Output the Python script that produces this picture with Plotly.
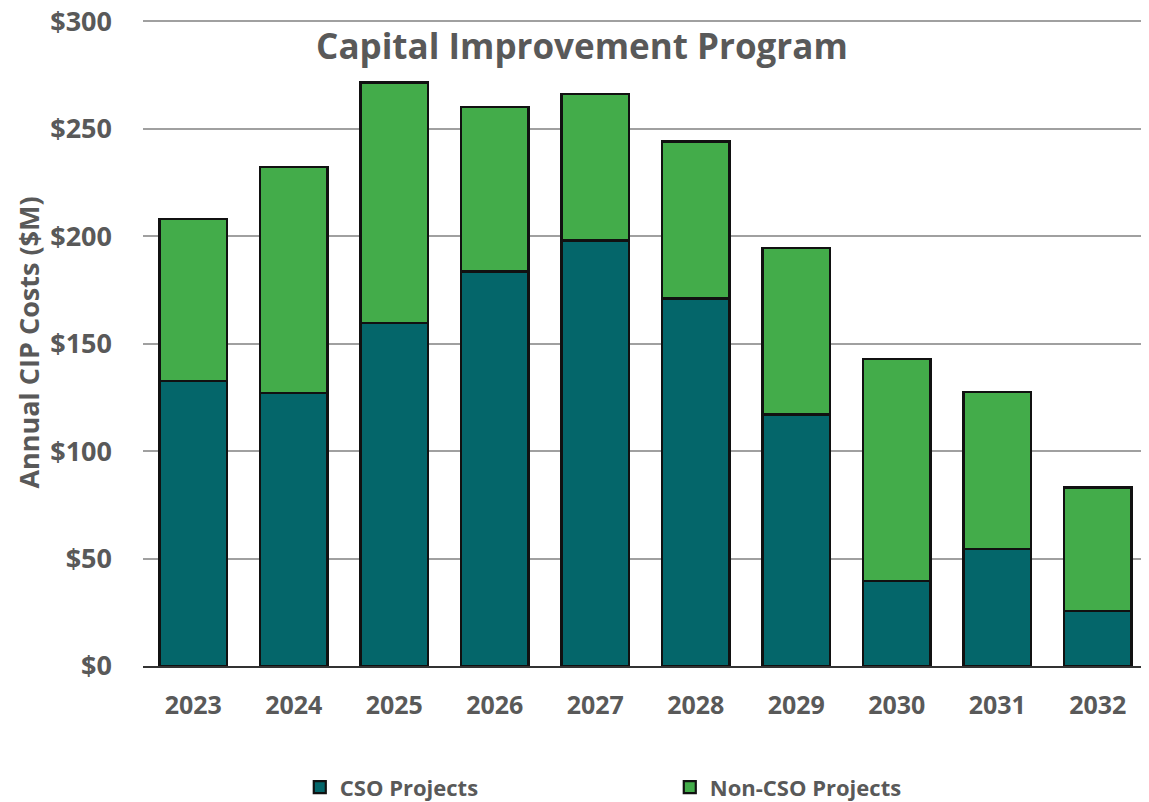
import plotly.graph_objects as go

years = ["2023", "2024", "2025", "2026", "2027", "2028", "2029", "2030", "2031", "2032"]
cso = [132.5, 127, 159.5, 183.5, 198, 171, 117, 39.5, 54.5, 25.5]
non_cso = [75.5, 105, 112, 76.5, 68, 73, 77.5, 103.5, 73, 57.5]
y_ticks = [0, 50, 100, 150, 200, 250, 300]
y_labels = ["$0", "$50", "$100", "$150", "$200", "$250", "$300"]

GRAY = "#595959"
FONT = "Open Sans, sans-serif"

fig = go.Figure()
fig.add_trace(go.Bar(x=years, y=cso, name="<b>CSO Projects</b>",
                     marker=dict(color="#04666A", line=dict(color="#111111", width=2.2))))
fig.add_trace(go.Bar(x=years, y=non_cso, name="<b>Non-CSO Projects</b>",
                     marker=dict(color="#43AC4A", line=dict(color="#111111", width=2.2))))

# page body has an 8px margin, so the figure is sized to fit the window
fig.update_layout(
    barmode="stack",
    bargap=0.33,
    width=1141, height=794,
    margin=dict(l=135, r=1, t=11, b=136, autoexpand=False),
    plot_bgcolor="white", paper_bgcolor="white",
    font=dict(family=FONT, size=20, color=GRAY),
    title=dict(text="<b>Capital Improvement Program</b>", x=0.503, xanchor="center",
               y=1 - 39 / 794, yanchor="middle", font=dict(size=35, color=GRAY, family=FONT)),
    showlegend=True,
    legend=dict(orientation="h", x=0.156, y=-0.1876, xanchor="left", yanchor="middle",
                entrywidth=325, entrywidthmode="pixels", traceorder="normal",
                font=dict(size=22, color=GRAY, family=FONT)),
    xaxis=dict(showgrid=False, showline=True, linecolor="#333333", linewidth=1.5,
               automargin=False,
               tickfont=dict(size=25, color=GRAY, family=FONT), ticks="",
               ticklabelstandoff=16, tickprefix="<b>", ticksuffix="</b>"),
    yaxis=dict(range=[0, 301], tickvals=y_ticks, ticktext=["<b>" + t + "</b>" for t in y_labels],
               showgrid=True, gridcolor="#A0A0A0", gridwidth=1.5, zeroline=False,
               automargin=False, ticklabeloverflow="allow",
               tickfont=dict(size=27, color=GRAY, family=FONT), ticklabelstandoff=30,
               title=dict(text="<b>Annual CIP Costs ($M)</b>", standoff=2,
                          font=dict(size=27, color=GRAY, family=FONT))),
)

fig.write_html("out.html")
